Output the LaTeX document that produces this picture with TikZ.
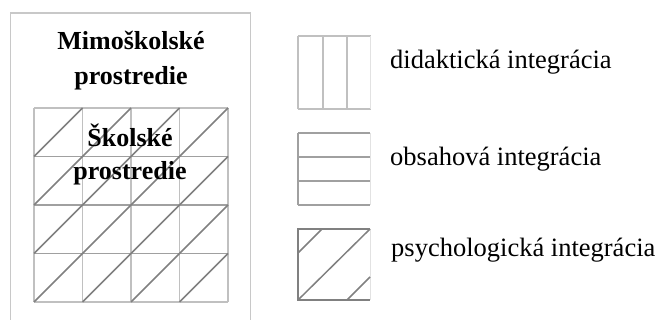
\documentclass[tikz,border=0pt]{standalone}
\usepackage{fontspec}
\setmainfont{Liberation Serif}
\definecolor{frameGray}{HTML}{C8C8C8}
\definecolor{vertGray}{HTML}{C0C0C0}
\definecolor{horzGray}{HTML}{A0A0A0}
\definecolor{diagGray}{HTML}{808080}
\definecolor{edgeGray}{HTML}{E2E2E2}
\tikzset{
  frameline/.style={draw=frameGray, line width=1.5pt},
  vline/.style={draw=vertGray, line width=1.5pt},
  hline/.style={draw=horzGray, line width=1.5pt},
  dline/.style={draw=diagGray, line width=1.5pt},
  edgeline/.style={draw=edgeGray, line width=1pt},
  titletext/.style={anchor=base, inner sep=0pt, font=\fontsize{26}{30}\selectfont\bfseries},
  legendtext/.style={anchor=base west, inner sep=0pt, font=\fontsize{26.5}{30}\selectfont}
}
\begin{document}
\begin{tikzpicture}[x=1pt,y=-1pt]
\useasboundingbox (0,0) rectangle (659,320);

% outer frame (open at the bottom)
\draw[frameline] (10.5,320) -- (10.5,13) -- (250.5,13) -- (250.5,320);

% combined grid: verticals, horizontals, diagonals
\foreach \x in {34,82.5,131,179.5,228}
  \draw[vline] (\x,108) -- (\x,302);
\draw[vline] (34,108) -- (228,108);
\draw[vline] (34,302) -- (228,302);
\foreach \y in {156.5,205,253.5}
  \draw[hline] (34,\y) -- (228,\y);
\foreach \i in {0,1,2,3}
  \foreach \j in {0,1,2,3}
    \draw[dline] (34+48.5*\i,108+48.5*\j+48.5) -- (34+48.5*\i+48.5,108+48.5*\j);

% titles
\node[titletext] (outerA) at (131,50) {Mimoškolské};
\node[titletext] (outerB) at (131,85) {prostredie};
\node[titletext] (innerA) at (130,147) {Školské};
\node[titletext] (innerB) at (130,180) {prostredie};

% legend: didactic integration
\draw[vline] (298,36) -- (371,36);
\draw[vline] (298,109) -- (371,109);
\foreach \x in {298,323,347}
  \draw[vline] (\x,36) -- (\x,109);
\draw[edgeline] (370.5,36) -- (370.5,109);
\node[legendtext] (didak) at (390,69) {didaktická integrácia};

% legend: content integration
\draw[hline] (298,133) -- (298,205);
\foreach \y in {133,157,181,205}
  \draw[hline] (298,\y) -- (370,\y);
\draw[edgeline] (370,133) -- (370,205);
\node[legendtext] (obsah) at (390,166) {obsahová integrácia};

% legend: psychological integration
\draw[dline] (370,229) -- (298,229) -- (298,300) -- (370,300);
\draw[edgeline] (370,229) -- (370,300);
\draw[dline] (298,253) -- (322,229);
\draw[dline] (298,300) -- (370,229);
\draw[dline] (347,300) -- (370,277);
\node[legendtext] (psych) at (391,257) {psychologická integrácia};
\end{tikzpicture}
\end{document}
